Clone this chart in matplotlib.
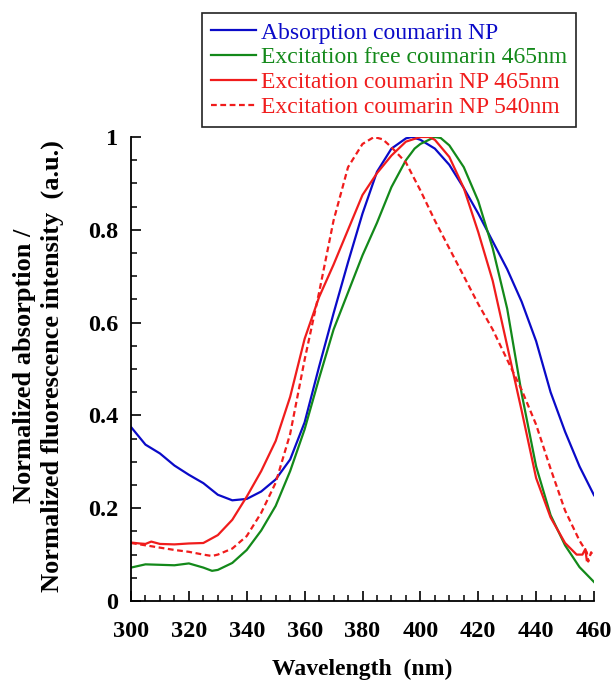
import matplotlib
matplotlib.use("Agg")
import matplotlib.pyplot as plt
from matplotlib.ticker import MultipleLocator, FixedLocator, FixedFormatter

# absorption coumarin NP
blue_x = [300, 305, 310, 315, 320, 325, 330, 335, 340, 345, 350, 355, 360, 365, 370,
          375, 380, 385, 390, 395, 397, 400, 405, 410, 415, 420, 425, 430, 435, 440,
          445, 450, 455, 460]
blue_y = [0.375, 0.337, 0.318, 0.292, 0.272, 0.254, 0.229, 0.217, 0.220, 0.236, 0.262,
          0.305, 0.385, 0.505, 0.620, 0.730, 0.835, 0.925, 0.975, 0.997, 1.0, 0.994,
          0.975, 0.940, 0.890, 0.835, 0.775, 0.715, 0.645, 0.560, 0.450, 0.365, 0.290,
          0.228]

# excitation free coumarin 465nm
green_x = [300, 305, 310, 315, 320, 325, 328, 330, 335, 340, 345, 350, 355, 360, 365,
           370, 375, 380, 385, 390, 395, 398, 400, 405, 407, 410, 415, 420, 425, 430,
           435, 440, 445, 450, 455, 460]
green_y = [0.072, 0.079, 0.078, 0.077, 0.081, 0.072, 0.065, 0.067, 0.082, 0.110, 0.152,
           0.205, 0.280, 0.370, 0.480, 0.585, 0.665, 0.745, 0.815, 0.892, 0.950, 0.975,
           0.985, 1.0, 0.998, 0.982, 0.935, 0.862, 0.760, 0.630, 0.447, 0.290, 0.185,
           0.120, 0.073, 0.041]

# excitation coumarin NP 465nm
red_x = [300, 303, 305, 307, 310, 315, 320, 325, 330, 335, 340, 345, 350, 355, 360,
         365, 370, 375, 380, 385, 390, 395, 400, 403, 405, 410, 415, 420, 425, 430,
         435, 440, 445, 450, 454, 456, 457, 457.5]
red_y = [0.126, 0.124, 0.123, 0.128, 0.123, 0.122, 0.124, 0.125, 0.142, 0.175, 0.225,
         0.280, 0.345, 0.440, 0.565, 0.655, 0.725, 0.800, 0.875, 0.922, 0.960, 0.990,
         1.0, 1.0, 0.994, 0.957, 0.890, 0.795, 0.690, 0.550, 0.410, 0.265, 0.180,
         0.125, 0.100, 0.100, 0.112, 0.088]

# excitation coumarin NP 540nm
dash_x = [300, 305, 310, 315, 320, 325, 328, 330, 335, 340, 345, 350, 355, 360, 365,
          370, 375, 380, 384, 387, 390, 395, 400, 405, 410, 415, 420, 425, 430, 435,
          440, 445, 450, 455, 457.5, 458, 459, 460]
dash_y = [0.125, 0.120, 0.115, 0.110, 0.106, 0.100, 0.097, 0.100, 0.113, 0.140, 0.190,
          0.255, 0.360, 0.520, 0.665, 0.820, 0.935, 0.985, 1.0, 0.995, 0.978, 0.945,
          0.885, 0.820, 0.760, 0.700, 0.640, 0.585, 0.520, 0.455, 0.380, 0.285, 0.195,
          0.130, 0.105, 0.085, 0.105, 0.095]

labels = ["Absorption coumarin NP", "Excitation free coumarin 465nm",
          "Excitation coumarin NP 465nm", "Excitation coumarin NP 540nm"]
y_ticks = [0, 0.2, 0.4, 0.6, 0.8, 1.0]
y_ticklabels = ["0", "0.2", "0.4", "0.6", "0.8", "1"]

c_blue = "#0a0ac8"
c_green = "#13891a"
c_red = "#f01c1c"

plt.rcParams["font.family"] = ["Liberation Serif", "DejaVu Serif"]

fig = plt.figure(figsize=(6.12, 6.81), dpi=100)
ax = fig.add_axes([131 / 612, 80 / 681, 463 / 612, 464 / 681])

l1, = ax.plot(blue_x, blue_y, color=c_blue, lw=1.6)
l2, = ax.plot(green_x, green_y, color=c_green, lw=1.6)
l3, = ax.plot(red_x, red_y, color=c_red, lw=1.6)
l4, = ax.plot(dash_x, dash_y, color=c_red, lw=1.6, ls=(0, (2.6, 1.6)))

ax.set_xlim(300, 460)
ax.set_ylim(0, 1)
ax.spines["top"].set_visible(False)
ax.spines["right"].set_visible(False)
ax.spines["left"].set_linewidth(1.3)
ax.spines["bottom"].set_linewidth(1.3)

ax.xaxis.set_major_locator(MultipleLocator(20))
ax.xaxis.set_minor_locator(MultipleLocator(5))
ax.yaxis.set_major_locator(FixedLocator(y_ticks))
ax.yaxis.set_major_formatter(FixedFormatter(y_ticklabels))
ax.yaxis.set_minor_locator(MultipleLocator(0.05))
ax.tick_params(which="major", direction="in", length=7, width=1.2, labelsize=17.5, pad=14.5)
ax.tick_params(which="minor", direction="in", length=4.5, width=1.1)
ax.tick_params(axis="y", which="major", pad=9)
for t in ax.get_xticklabels() + ax.get_yticklabels():
    t.set_fontweight("bold")

fig.text(362 / 612, 1 - 669 / 681, "Wavelength  (nm)", ha="center", va="center",
         fontsize=17, fontweight="bold")
fig.text(38.5 / 612, 1 - 366 / 681,
         "Normalized absorption /\nNormalized fluorescence intensity  (a.u.)",
         rotation=90, ha="center", va="center", multialignment="center",
         fontsize=19, fontweight="bold", linespacing=1.3)

leg = fig.legend([l1, l2, l3, l4], labels, loc="upper left",
                 bbox_to_anchor=(202 / 612, 1 - 13 / 681), borderaxespad=0,
                 fontsize=17, frameon=True, fancybox=False, framealpha=1,
                 edgecolor="#222222", handlelength=1.9, handletextpad=0.22,
                 labelspacing=0.14, borderpad=0.38)
leg.get_frame().set_linewidth(1.2)
for txt, c in zip(leg.get_texts(), [c_blue, c_green, c_red, c_red]):
    txt.set_color(c)

fig.savefig("out.png", dpi=100)
